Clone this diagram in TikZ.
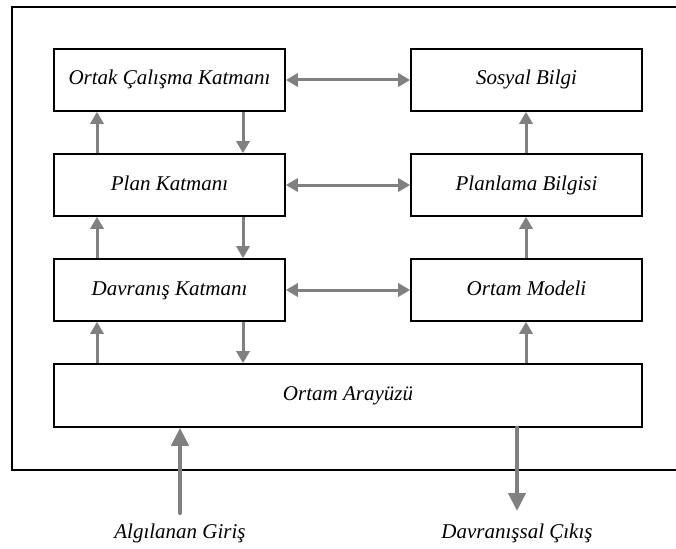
\documentclass[tikz,border=0pt]{standalone}
\usepackage{fontspec}
\setmainfont{Liberation Serif}
\usetikzlibrary{arrows.meta,calc}
\begin{document}
\begin{tikzpicture}[x=1pt,y=-1pt,
  every node/.style={font=\fontsize{21}{25}\selectfont\itshape},
  box/.style={draw=black,line width=1.6pt,minimum width=231pt,minimum height=62pt,
              inner sep=0pt,text height=15pt,text depth=5pt},
  arr/.style={draw={rgb,255:red,128;green,128;blue,128},line width=3pt,
              -{Triangle[length=12pt,width=13pt]}},
  dblarr/.style={arr,{Triangle[length=12pt,width=13pt]}-{Triangle[length=12pt,width=13pt]}},
  bigarr/.style={draw={rgb,255:red,128;green,128;blue,128},line width=4.2pt,line cap=round,
              -{Triangle[length=18pt,width=17pt]}},
  lbl/.style={inner sep=0pt,text height=15pt,text depth=5pt}
]
\useasboundingbox (0,0) rectangle (676,548);

% outer frame, open on the right
\draw[line width=2pt] (676,7) -- (12,7) -- (12,470) -- (676,470);

% left column: layers
\node[box] (ortak) at (169.5,80) {Ortak Çalışma Katmanı};
\node[box] (plan)  at (169.5,185) {Plan Katmanı};
\node[box] (davr)  at (169.5,290) {Davranış Katmanı};

% right column: knowledge
\node[box] (sosyal) at (526.5,80) {Sosyal Bilgi};
\node[box] (planb)  at (526.5,185) {Planlama Bilgisi};
\node[box] (model)  at (526.5,290) {Ortam Modeli};

% environment interface
\node[box,minimum width=588pt,minimum height=63pt] (arayuz) at (348,395.5) {Ortam Arayüzü};

% column positions of the vertical connectors
\coordinate (cup) at (97,0);
\coordinate (cdown) at (243,0);
\coordinate (cright) at (526,0);

% upward flow on the left
\draw[arr] (plan.north -| cup) -- (ortak.south -| cup);
\draw[arr] (davr.north -| cup) -- (plan.south -| cup);
\draw[arr] (arayuz.north -| cup) -- (davr.south -| cup);

% downward flow on the left
\draw[arr] (ortak.south -| cdown) -- (plan.north -| cdown);
\draw[arr] (plan.south -| cdown) -- (davr.north -| cdown);
\draw[arr] (davr.south -| cdown) -- (arayuz.north -| cdown);

% upward flow on the right
\draw[arr] (planb.north -| cright) -- (sosyal.south -| cright);
\draw[arr] (model.north -| cright) -- (planb.south -| cright);
\draw[arr] (arayuz.north -| cright) -- (model.south -| cright);

% two-way links between layers and knowledge
\draw[dblarr] (ortak.east) -- (sosyal.west);
\draw[dblarr] (plan.east) -- (planb.west);
\draw[dblarr] (davr.east) -- (model.west);

% input and output
\coordinate (inend) at (180,513);
\coordinate (outend) at (517,511);
\draw[bigarr] (inend) -- (arayuz.south -| inend);
\draw[bigarr] (arayuz.south -| outend) -- (outend);
\node[lbl] (inlbl) at (180,533) {Algılanan Giriş};
\node[lbl] (outlbl) at (517,533) {Davranışsal Çıkış};
\end{tikzpicture}
\end{document}
